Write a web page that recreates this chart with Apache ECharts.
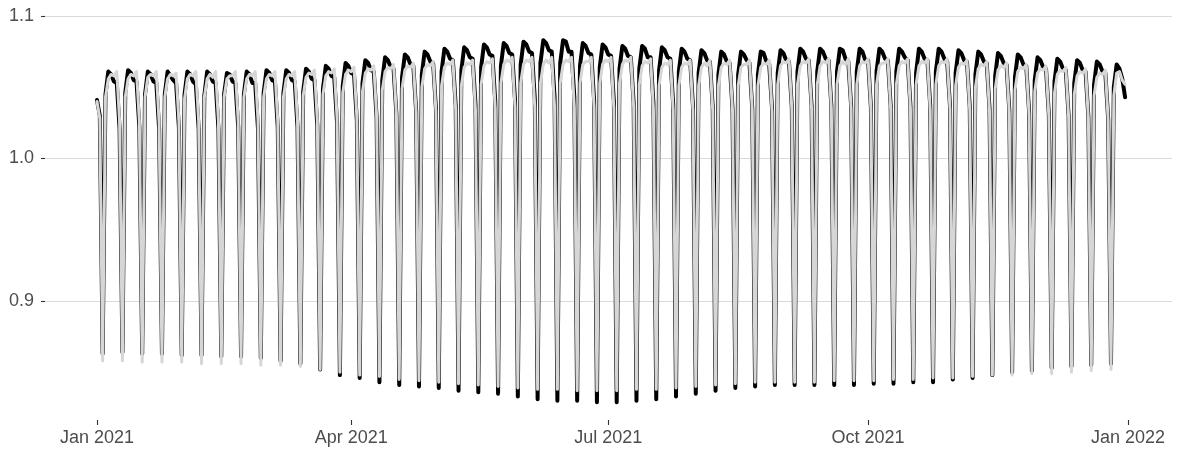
<!DOCTYPE html>
<html>
<head>
<meta charset="utf-8">
<title>Daily factor 2021</title>
<script src="https://cdn.jsdelivr.net/npm/echarts@6/dist/echarts.min.js"></script>
<style>
  html, body { margin: 0; padding: 0; background: #ffffff; }
  #chart { width: 1177px; height: 453px; }
</style>
</head>
<body>
<div id="chart"></div>
<script>
// Daily values from Fri 1 Jan 2021 to Fri 31 Dec 2021.
// One row per week (Mon..Sun); the first row starts on Friday, the last ends on Friday.
const startDate = '2021-01-01';

const seriesBlack = [
  1.041, 1.030, 0.863,
  1.045, 1.061, 1.059, 1.054, 1.053, 1.021, 0.864,
  1.046, 1.062, 1.060, 1.055, 1.054, 1.022, 0.863,
  1.045, 1.061, 1.059, 1.054, 1.053, 1.021, 0.863,
  1.045, 1.061, 1.058, 1.055, 1.053, 1.022, 0.862,
  1.045, 1.061, 1.059, 1.054, 1.052, 1.021, 0.862,
  1.044, 1.061, 1.059, 1.054, 1.053, 1.021, 0.861,
  1.045, 1.060, 1.059, 1.054, 1.053, 1.022, 0.861,
  1.045, 1.061, 1.059, 1.053, 1.053, 1.021, 0.860,
  1.046, 1.062, 1.060, 1.055, 1.054, 1.022, 0.858,
  1.046, 1.062, 1.060, 1.055, 1.054, 1.022, 0.856,
  1.047, 1.063, 1.061, 1.056, 1.055, 1.023, 0.852,
  1.049, 1.065, 1.063, 1.058, 1.057, 1.025, 0.848,
  1.051, 1.067, 1.065, 1.060, 1.059, 1.027, 0.846,
  1.053, 1.069, 1.067, 1.062, 1.061, 1.029, 0.843,
  1.055, 1.071, 1.069, 1.064, 1.063, 1.031, 0.841,
  1.057, 1.073, 1.071, 1.066, 1.065, 1.033, 0.840,
  1.059, 1.075, 1.073, 1.068, 1.067, 1.035, 0.839,
  1.061, 1.077, 1.075, 1.070, 1.069, 1.037, 0.837,
  1.062, 1.078, 1.076, 1.071, 1.070, 1.038, 0.836,
  1.064, 1.080, 1.078, 1.073, 1.072, 1.040, 0.835,
  1.065, 1.081, 1.079, 1.074, 1.073, 1.041, 0.833,
  1.066, 1.082, 1.080, 1.075, 1.074, 1.042, 0.831,
  1.067, 1.083, 1.081, 1.076, 1.075, 1.043, 0.830,
  1.067, 1.083, 1.082, 1.075, 1.075, 1.043, 0.830,
  1.065, 1.081, 1.079, 1.074, 1.073, 1.041, 0.829,
  1.064, 1.080, 1.078, 1.073, 1.072, 1.040, 0.829,
  1.063, 1.079, 1.077, 1.072, 1.071, 1.039, 0.830,
  1.063, 1.079, 1.077, 1.071, 1.071, 1.039, 0.831,
  1.062, 1.078, 1.076, 1.071, 1.070, 1.038, 0.833,
  1.061, 1.077, 1.075, 1.070, 1.069, 1.037, 0.835,
  1.060, 1.076, 1.074, 1.069, 1.068, 1.036, 0.837,
  1.059, 1.075, 1.073, 1.068, 1.067, 1.035, 0.839,
  1.059, 1.075, 1.073, 1.069, 1.067, 1.035, 0.840,
  1.059, 1.075, 1.074, 1.068, 1.066, 1.035, 0.841,
  1.060, 1.076, 1.074, 1.069, 1.068, 1.036, 0.841,
  1.061, 1.077, 1.075, 1.070, 1.069, 1.037, 0.841,
  1.061, 1.077, 1.075, 1.070, 1.069, 1.037, 0.841,
  1.061, 1.077, 1.076, 1.070, 1.068, 1.037, 0.841,
  1.061, 1.077, 1.075, 1.069, 1.069, 1.036, 0.842,
  1.061, 1.077, 1.075, 1.070, 1.069, 1.037, 0.842,
  1.061, 1.077, 1.075, 1.071, 1.069, 1.037, 0.843,
  1.060, 1.077, 1.075, 1.070, 1.069, 1.037, 0.843,
  1.061, 1.077, 1.075, 1.070, 1.068, 1.037, 0.845,
  1.060, 1.076, 1.074, 1.069, 1.068, 1.036, 0.846,
  1.059, 1.075, 1.073, 1.068, 1.067, 1.035, 0.848,
  1.058, 1.074, 1.072, 1.067, 1.066, 1.034, 0.850,
  1.057, 1.073, 1.071, 1.066, 1.065, 1.033, 0.851,
  1.055, 1.071, 1.069, 1.064, 1.063, 1.031, 0.853,
  1.054, 1.070, 1.068, 1.063, 1.062, 1.030, 0.854,
  1.053, 1.069, 1.067, 1.062, 1.061, 1.029, 0.855,
  1.052, 1.068, 1.066, 1.061, 1.060, 1.028, 0.856,
  1.050, 1.066, 1.063, 1.056, 1.043
];

const seriesGrey = [
  1.040, 1.028, 0.858,
  1.043, 1.056, 1.059, 1.058, 1.061, 1.026, 0.858,
  1.043, 1.056, 1.059, 1.058, 1.061, 1.026, 0.857,
  1.043, 1.057, 1.059, 1.058, 1.061, 1.025, 0.857,
  1.043, 1.056, 1.059, 1.058, 1.060, 1.026, 0.857,
  1.042, 1.056, 1.059, 1.058, 1.061, 1.026, 0.856,
  1.043, 1.056, 1.059, 1.057, 1.061, 1.026, 0.856,
  1.043, 1.056, 1.058, 1.058, 1.061, 1.026, 0.856,
  1.043, 1.056, 1.059, 1.058, 1.061, 1.027, 0.855,
  1.043, 1.056, 1.059, 1.058, 1.061, 1.026, 0.855,
  1.043, 1.056, 1.059, 1.058, 1.061, 1.026, 0.854,
  1.044, 1.057, 1.060, 1.059, 1.062, 1.027, 0.852,
  1.045, 1.058, 1.061, 1.060, 1.063, 1.028, 0.850,
  1.046, 1.059, 1.062, 1.061, 1.064, 1.029, 0.848,
  1.047, 1.060, 1.063, 1.062, 1.065, 1.030, 0.847,
  1.048, 1.061, 1.064, 1.063, 1.066, 1.031, 0.845,
  1.049, 1.062, 1.065, 1.064, 1.067, 1.032, 0.844,
  1.050, 1.063, 1.066, 1.065, 1.068, 1.033, 0.843,
  1.051, 1.064, 1.067, 1.066, 1.069, 1.034, 0.842,
  1.051, 1.064, 1.067, 1.066, 1.069, 1.034, 0.841,
  1.052, 1.065, 1.068, 1.067, 1.070, 1.035, 0.840,
  1.053, 1.066, 1.069, 1.068, 1.071, 1.036, 0.839,
  1.053, 1.066, 1.069, 1.068, 1.071, 1.036, 0.838,
  1.053, 1.066, 1.069, 1.067, 1.071, 1.036, 0.838,
  1.053, 1.066, 1.069, 1.068, 1.071, 1.036, 0.837,
  1.053, 1.066, 1.068, 1.068, 1.071, 1.036, 0.837,
  1.053, 1.066, 1.069, 1.068, 1.071, 1.035, 0.837,
  1.053, 1.066, 1.069, 1.068, 1.071, 1.036, 0.838,
  1.052, 1.065, 1.068, 1.067, 1.070, 1.035, 0.838,
  1.051, 1.064, 1.067, 1.066, 1.069, 1.034, 0.839,
  1.051, 1.064, 1.067, 1.066, 1.069, 1.034, 0.840,
  1.051, 1.064, 1.067, 1.065, 1.069, 1.034, 0.841,
  1.051, 1.064, 1.067, 1.066, 1.069, 1.034, 0.842,
  1.051, 1.064, 1.066, 1.066, 1.069, 1.034, 0.843,
  1.051, 1.064, 1.067, 1.066, 1.069, 1.033, 0.843,
  1.052, 1.065, 1.068, 1.067, 1.070, 1.035, 0.843,
  1.052, 1.065, 1.068, 1.067, 1.070, 1.035, 0.843,
  1.052, 1.065, 1.068, 1.067, 1.070, 1.035, 0.844,
  1.052, 1.065, 1.068, 1.066, 1.070, 1.035, 0.844,
  1.052, 1.065, 1.068, 1.067, 1.070, 1.035, 0.844,
  1.052, 1.065, 1.067, 1.067, 1.070, 1.035, 0.845,
  1.052, 1.065, 1.068, 1.067, 1.070, 1.035, 0.845,
  1.052, 1.065, 1.068, 1.067, 1.070, 1.034, 0.846,
  1.052, 1.065, 1.068, 1.067, 1.070, 1.035, 0.846,
  1.051, 1.064, 1.067, 1.066, 1.069, 1.034, 0.847,
  1.050, 1.063, 1.066, 1.065, 1.068, 1.033, 0.848,
  1.049, 1.062, 1.065, 1.064, 1.067, 1.032, 0.848,
  1.048, 1.061, 1.064, 1.063, 1.066, 1.031, 0.849,
  1.047, 1.060, 1.063, 1.062, 1.065, 1.030, 0.849,
  1.046, 1.059, 1.062, 1.061, 1.064, 1.029, 0.850,
  1.045, 1.058, 1.061, 1.060, 1.063, 1.028, 0.851,
  1.044, 1.057, 1.060, 1.059, 1.062, 1.027, 0.852,
  1.044, 1.060, 1.061, 1.055, 1.052
];

const xTickDates = ['2021-01-01', '2021-04-01', '2021-07-01', '2021-10-01', '2022-01-01'];
const yTickValues = [0.9, 1.0, 1.1];
const monthNames = ['Jan', 'Feb', 'Mar', 'Apr', 'May', 'Jun', 'Jul', 'Aug', 'Sep', 'Oct', 'Nov', 'Dec'];

const DAY = 86400000;
const toTime = s => Date.parse(s + 'T00:00:00Z');
const t0 = toTime(startDate);
const pairs = arr => arr.map((v, i) => [t0 + i * DAY, v]);

const chart = echarts.init(document.getElementById('chart'), null, { renderer: 'canvas' });

const labelFont = 'Liberation Sans, Arial, Helvetica, sans-serif';

chart.setOption({
  animation: false,
  backgroundColor: '#ffffff',
  grid: { left: 45, right: 5, top: 4.6, bottom: 33, containLabel: false },
  xAxis: {
    type: 'value',
    min: t0 - 18.41 * DAY,
    max: toTime('2022-01-01') + 15.6 * DAY,
    axisLine: { show: false },
    axisTick: {
      show: true, length: 5,
      customValues: xTickDates.map(toTime),
      lineStyle: { color: '#333333', width: 1.1 }
    },
    axisLabel: {
      customValues: xTickDates.map(toTime),
      margin: 9,
      color: '#4d4d4d',
      fontSize: 18,
      fontFamily: labelFont,
      formatter: v => {
        const d = new Date(v);
        return monthNames[d.getUTCMonth()] + ' ' + d.getUTCFullYear();
      }
    },
    splitLine: { show: false }
  },
  yAxis: {
    type: 'value',
    min: 0.8165,
    max: 1.108,
    axisLine: { show: false },
    axisTick: {
      show: true, length: 4,
      customValues: yTickValues,
      lineStyle: { color: '#333333', width: 1.1 }
    },
    axisLabel: {
      customValues: yTickValues,
      margin: 11,
      color: '#4d4d4d',
      fontSize: 18,
      fontFamily: labelFont,
      formatter: v => v.toFixed(1)
    },
    splitLine: { show: true, lineStyle: { color: '#dadada', width: 1.1 } }
  },
  series: [
    {
      name: 'black',
      type: 'line',
      data: pairs(seriesBlack),
      showSymbol: false,
      lineStyle: { color: '#000000', width: 4.0, join: 'round', cap: 'round' },
      z: 2
    },
    {
      name: 'grey',
      type: 'line',
      data: pairs(seriesGrey),
      showSymbol: false,
      lineStyle: { color: '#d6d6d6', width: 3.0, join: 'round', cap: 'round' },
      z: 3
    }
  ]
});
</script>
</body>
</html>
